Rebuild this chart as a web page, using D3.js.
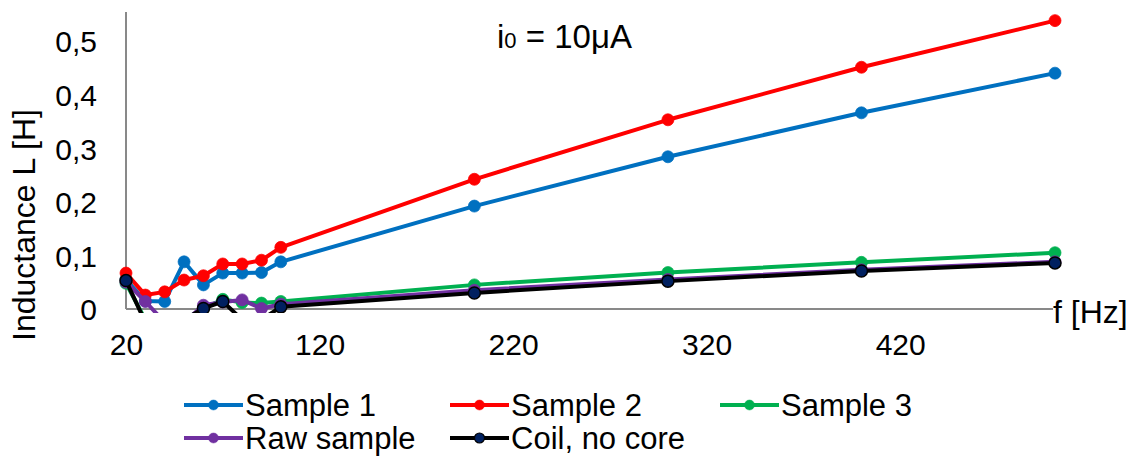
<!DOCTYPE html>
<html>
<head>
<meta charset="utf-8">
<script src="https://cdn.jsdelivr.net/npm/d3@7"></script>
<style>
  html, body { margin: 0; padding: 0; background: #fff; }
  svg text { font-family: "Liberation Sans", Arial, sans-serif; fill: #000; }
</style>
</head>
<body>
<svg id="chart" width="1133" height="457"></svg>
<script>
// Measured frequencies (Hz)
const frequency = [20, 30, 40, 50, 60, 70, 80, 90, 100, 200, 300, 400, 500];

// Inductance L [H] for each specimen
const sample1 = [0.055, 0.015, 0.014, 0.088, 0.045, 0.067, 0.067, 0.068, 0.088, 0.192, 0.284, 0.366, 0.440];
const sample2 = [0.067, 0.026, 0.032, 0.054, 0.062, 0.084, 0.084, 0.091, 0.115, 0.242, 0.353, 0.451, 0.538];
const sample3 = [0.048, -0.020, -0.030, -0.020, 0.001, 0.018, 0.012, 0.011, 0.014, 0.045, 0.068, 0.087, 0.105];
const rawSample = [0.050, 0.014, -0.025, -0.025, 0.007, 0.013, 0.017, 0.001, 0.009, 0.035, 0.055, 0.073, 0.088];
const coilNoCore = [0.053, -0.025, -0.030, -0.020, 0.001, 0.014, -0.020, -0.020, 0.004, 0.030, 0.052, 0.071, 0.086];

const seriesNames = ["Sample 1", "Sample 2", "Sample 3", "Raw sample", "Coil, no core"];
const seriesValues = [sample1, sample2, sample3, rawSample, coilNoCore];
const lineColors = ["#0070C0", "#FF0000", "#00B050", "#7030A0", "#000000"];
const markerColors = ["#0070C0", "#FF0000", "#00B050", "#7030A0", "#002060"];

const xTicks = [20, 120, 220, 320, 420];
const yTicks = [0, 0.1, 0.2, 0.3, 0.4, 0.5];

const svg = d3.select("#chart");

const x = d3.scaleLinear().domain([20, 500]).range([126, 1055]);
const y = d3.scaleLinear().domain([0, 0.5]).range([309, 41]);
const yTop = 12;

const fmt = d => d === 0 ? "0" : d3.format(".1f")(d).replace(".", ",");

// clip region for the plot area
svg.append("defs").append("clipPath").attr("id", "plotClip")
  .append("rect")
  .attr("x", x(20) - 8).attr("y", yTop)
  .attr("width", x(500) - x(20) + 20).attr("height", y(0) + 4 - yTop);

// y axis (labels only, no ticks)
const yAxis = svg.append("g")
  .attr("transform", `translate(${x(20)},0)`)
  .call(d3.axisLeft(y).tickValues(yTicks).tickFormat(fmt).tickSize(0).tickPadding(29));
yAxis.select(".domain").remove();
yAxis.selectAll("text").style("font-size", "30px").attr("dy", "0.36em");

svg.append("line")
  .attr("x1", x(20)).attr("x2", x(20))
  .attr("y1", yTop).attr("y2", y(0))
  .attr("stroke", "#898989").attr("stroke-width", 2);

// x axis
const xAxis = svg.append("g")
  .attr("transform", `translate(0,${y(0)})`)
  .call(d3.axisBottom(x).tickValues(xTicks).tickFormat(d3.format("d")).tickSize(0).tickPadding(25));
xAxis.select(".domain").remove();
xAxis.selectAll("text").style("font-size", "30px");

svg.append("line")
  .attr("x1", x(20)).attr("x2", x(500) - 2)
  .attr("y1", y(0)).attr("y2", y(0))
  .attr("stroke", "#898989").attr("stroke-width", 2);

// axis titles
svg.append("text")
  .attr("transform", `translate(35,${(105 + 345) / 2}) rotate(-90)`)
  .attr("text-anchor", "middle")
  .style("font-size", "32px")
  .text("Inductance L [H]");

svg.append("text")
  .attr("x", 1053).attr("y", 323)
  .style("font-size", "32px")
  .text("f [Hz]");

// chart title
const title = svg.append("text")
  .attr("x", 497).attr("y", 48)
  .style("font-size", "33px");
title.append("tspan").text("i");
title.append("tspan").style("font-size", "22px").text("0");
title.append("tspan").text(" = 10μA");

// series
const plot = svg.append("g").attr("clip-path", "url(#plotClip)");
const line = d3.line().x((d, i) => x(frequency[i])).y(d => y(d));

seriesValues.forEach((vals, s) => {
  const g = plot.append("g");
  g.append("path")
    .datum(vals)
    .attr("d", line)
    .attr("fill", "none")
    .attr("stroke", lineColors[s])
    .attr("stroke-width", 4)
    .attr("stroke-linejoin", "round");
  g.selectAll("circle")
    .data(vals)
    .join("circle")
    .attr("cx", (d, i) => x(frequency[i]))
    .attr("cy", d => y(d))
    .attr("r", 6)
    .attr("fill", markerColors[s])
    .attr("stroke", s === 4 ? "#000" : markerColors[s])
    .attr("stroke-width", s === 4 ? 1.5 : 0.75);
});

// legend
const legendPos = [[184, 405], [450, 405], [720, 405], [184, 438], [450, 438]];
const legend = svg.append("g");
seriesNames.forEach((name, s) => {
  const [lx, ly] = legendPos[s];
  const g = legend.append("g").attr("transform", `translate(${lx},${ly})`);
  g.append("line").attr("x1", 0).attr("x2", 59).attr("y1", 0).attr("y2", 0)
    .attr("stroke", lineColors[s]).attr("stroke-width", 4);
  g.append("circle").attr("cx", 29.5).attr("cy", 0).attr("r", 5)
    .attr("fill", markerColors[s])
    .attr("stroke", s === 4 ? "#000" : markerColors[s]).attr("stroke-width", s === 4 ? 1.2 : 0.5);
  g.append("text").attr("x", 61).attr("y", 0).attr("dy", "0.36em")
    .style("font-size", "31px").text(name);
});
</script>
</body>
</html>
